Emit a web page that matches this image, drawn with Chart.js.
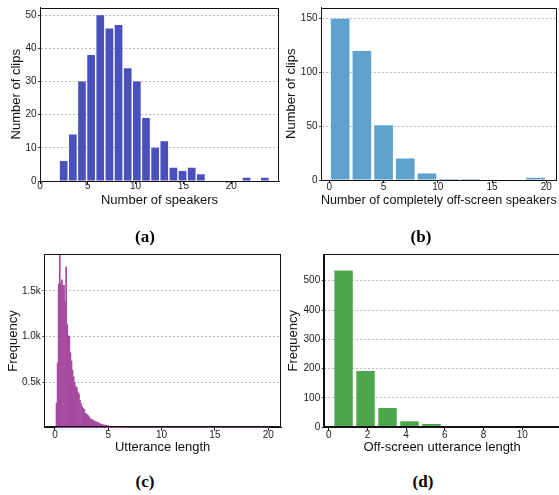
<!DOCTYPE html>
<html>
<head>
<meta charset="utf-8">
<script src="https://cdn.jsdelivr.net/npm/chart.js@4.4.1/dist/chart.umd.min.js"></script>
<style>
  html, body { margin: 0; padding: 0; background: #fff; overflow: hidden; }
  body { width: 559px; height: 495px; position: relative; }
  canvas { position: absolute; }
  .cap {
    position: absolute;
    font-family: 'Liberation Serif', serif;
    font-weight: bold;
    font-size: 17px;
    color: #000;
    transform: translate(-50%, -50%);
  }
</style>
</head>
<body>
<canvas id="chartA" width="280" height="210" style="left:0;top:0"></canvas>
<canvas id="chartB" width="279" height="210" style="left:280px;top:0"></canvas>
<canvas id="chartC" width="282" height="217" style="left:0;top:240px"></canvas>
<canvas id="chartD" width="280" height="217" style="left:282px;top:240px"></canvas>
<div class="cap" style="left:145px;top:237px">(a)</div>
<div class="cap" style="left:421px;top:237px">(b)</div>
<div class="cap" style="left:145px;top:482px">(c)</div>
<div class="cap" style="left:423px;top:482px">(d)</div>
<script>
// (a) number of speakers per clip
const aBinStart = 2, aBinWidth = 22 / 23;
const aCounts = [6, 14, 30, 38, 50, 46, 47, 34, 30, 19, 10, 12, 4, 3, 4, 2, 0, 0, 0, 0, 1, 0, 1];
const aXTicks = [0, 5, 10, 15, 20];
const aYTicks = [0, 10, 20, 30, 40, 50];

// (b) completely off-screen speakers per clip
const bBinStart = 0, bBinWidth = 2;
const bCounts = [150, 120, 51, 20, 6, 1, 1, 0, 0, 2];
const bXTicks = [0, 5, 10, 15, 20];
const bYTicks = [0, 50, 100, 150];

// (c) utterance length histogram, bins of 0.1 from 0.1
const cBinStart = 0.1, cBinWidth = 0.1;
const cCounts = [
  270, 710, 1570, 1900, 1580, 1620, 1560, 1560, 1380, 1760, 1130, 1010, 1000, 820, 730, 630, 560, 500, 450, 440,
  390, 370, 300, 260, 230, 210, 200, 160, 150, 140, 130, 110, 95, 90, 85, 75, 70, 66, 60, 55,
  50, 42, 38, 35, 30, 28, 25, 22, 20, 18, 12, 10, 9, 8, 8, 7, 6, 6, 5, 5,
  4, 4, 4, 3, 3, 3, 3, 2, 2, 2, 2, 2, 2, 2, 1, 1, 2, 1, 1, 1,
  1, 1, 1, 0, 1, 1, 0, 1, 0, 1, 1, 0, 0, 1, 0, 1, 0, 0, 1, 0,
  0, 1, 0, 0, 1, 0, 0, 0, 1, 0, 0, 0, 1, 0, 0, 0, 0, 1, 0, 0,
  0, 0, 0, 1, 0, 0, 0, 0, 0, 1, 0, 0, 0, 0, 0, 0, 1, 0, 0, 0,
  0, 0, 0, 0, 1, 0, 0, 0, 0, 0, 0, 0, 0, 1, 0, 0, 0, 0, 0, 0,
  0, 0, 1, 0, 0, 0, 0, 0, 0, 0, 0, 0, 0, 0, 0, 1, 0, 0, 0, 0,
  0, 0, 0, 0, 0, 0, 0, 0, 1, 0, 0, 0, 0, 0, 0, 0, 0, 0, 0, 1
];
const cXTicks = [0, 5, 10, 15, 20];
const cYTicks = [500, 1000, 1500];
const cYTickLabels = ['0.5k', '1.0k', '1.5k'];

// (d) off-screen utterance length
const dBinStart = 0.2, dBinWidth = 1.135;
const dCounts = [535, 192, 66, 21, 11, 4, 1, 0, 0, 1];
const dXTicks = [0, 2, 4, 6, 8, 10];
const dYTicks = [0, 100, 200, 300, 400, 500];

const FONT = "'Liberation Sans', Arial, sans-serif";

// full box around the plot area, like matplotlib spines
const framePlugin = {
  id: 'frame',
  afterDraw(chart) {
    const { ctx, chartArea: a } = chart;
    ctx.save();
    ctx.strokeStyle = '#111';
    ctx.lineWidth = 1;
    ctx.strokeRect(Math.round(a.left) + 0.5, Math.round(a.top) + 0.5,
      Math.round(a.right - a.left) - 1, Math.round(a.bottom - a.top) - 1);
    ctx.restore();
  }
};

function binPoints(start, width, counts) {
  return counts.map((c, i) => ({ x: start + width * (i + 0.5), y: c }));
}

function histChart(id, cfg) {
  const ctx = document.getElementById(id);
  return new Chart(ctx, {
    type: 'bar',
    data: {
      datasets: [{
        data: binPoints(cfg.binStart, cfg.binWidth, cfg.counts),
        backgroundColor: cfg.color,
        borderWidth: 0,
        barPercentage: cfg.barPct,
        categoryPercentage: 1
      }]
    },
    options: {
      responsive: false,
      animation: false,
      layout: { padding: cfg.padding },
      plugins: {
        legend: { display: false },
        tooltip: { enabled: false }
      },
      scales: {
        x: {
          type: 'linear',
          min: cfg.xMin,
          max: cfg.xMax,
          offset: false,
          grid: { offset: false, drawOnChartArea: false, tickLength: 3, tickColor: '#111' },
          border: { color: '#111', width: 1 },
          ticks: {
            autoSkip: false, maxRotation: 0, padding: cfg.xTickPad,
            color: '#222', font: { family: FONT, size: 10 }
          },
          afterBuildTicks: s => { s.ticks = cfg.xTicks.map(v => ({ value: v })); },
          afterFit: s => { s.height = cfg.xAxisH; },
          title: {
            display: true, text: cfg.xTitle, color: '#111',
            font: { family: FONT, size: 13 }, padding: { top: 0, bottom: 2 }
          }
        },
        y: {
          min: 0,
          max: cfg.yMax,
          grid: { color: '#aaa', lineWidth: 0.8, tickLength: 2, tickColor: '#111' },
          border: { color: '#111', width: 1, dash: [2, 2] },
          ticks: {
            padding: 1.5, color: '#222', font: { family: FONT, size: 10 },
            callback: cfg.yLabels ? (v, i) => cfg.yLabels[i] : (v => v)
          },
          afterBuildTicks: s => { s.ticks = cfg.yTicks.map(v => ({ value: v })); },
          afterFit: s => { s.width = cfg.yAxisW; },
          title: {
            display: true, text: cfg.yTitle, color: '#111',
            font: { family: FONT, size: 13 }, padding: { top: cfg.yTitlePad, bottom: 0 }
          }
        }
      }
    },
    plugins: [framePlugin]
  });
}

histChart('chartA', {
  binStart: aBinStart, binWidth: aBinWidth, counts: aCounts, color: '#4b50bf', barPct: 0.84,
  xMin: 0, xMax: 25, yMax: 52.3, xTicks: aXTicks, yTicks: aYTicks, xTickPad: -4,
  padding: { left: 0, top: 6, right: 1, bottom: 0 }, yAxisW: 40, xAxisH: 29, yTitlePad: 9,
  xTitle: 'Number of speakers', yTitle: 'Number of clips'
});

histChart('chartB', {
  binStart: bBinStart, binWidth: bBinWidth, counts: bCounts, color: '#5fa2cd', barPct: 0.86,
  xMin: -0.77, xMax: 20.96, yMax: 160.4, xTicks: bXTicks, yTicks: bYTicks, xTickPad: -1.5,
  padding: { left: 0, top: 6.7, right: 2.3, bottom: 0 }, yAxisW: 41, xAxisH: 30, yTitlePad: 3.9,
  xTitle: 'Number of completely off-screen speakers', yTitle: 'Number of clips'
});

histChart('chartC', {
  binStart: cBinStart, binWidth: cBinWidth, counts: cCounts, color: '#a54ba0', barPct: 1,
  xMin: -1.0, xMax: 21.2, yMax: 1900, xTicks: cXTicks, yTicks: cYTicks, yLabels: cYTickLabels, xTickPad: -1.2,
  padding: { left: 0, top: 14.3, right: 1, bottom: 0 }, yAxisW: 44.3, xAxisH: 29.3, yTitlePad: 5.5,
  xTitle: 'Utterance length', yTitle: 'Frequency'
});

histChart('chartD', {
  binStart: dBinStart, binWidth: dBinWidth, counts: dCounts, color: '#4ea64c', barPct: 0.84,
  xMin: -0.26, xMax: 11.97, yMax: 590, xTicks: dXTicks, yTicks: dYTicks, xTickPad: -1.5,
  padding: { left: 0, top: 14.3, right: 1.6, bottom: 0 }, yAxisW: 41.7, xAxisH: 29.7, yTitlePad: 3.5,
  xTitle: 'Off-screen utterance length', yTitle: 'Frequency'
});
</script>
</body>
</html>
